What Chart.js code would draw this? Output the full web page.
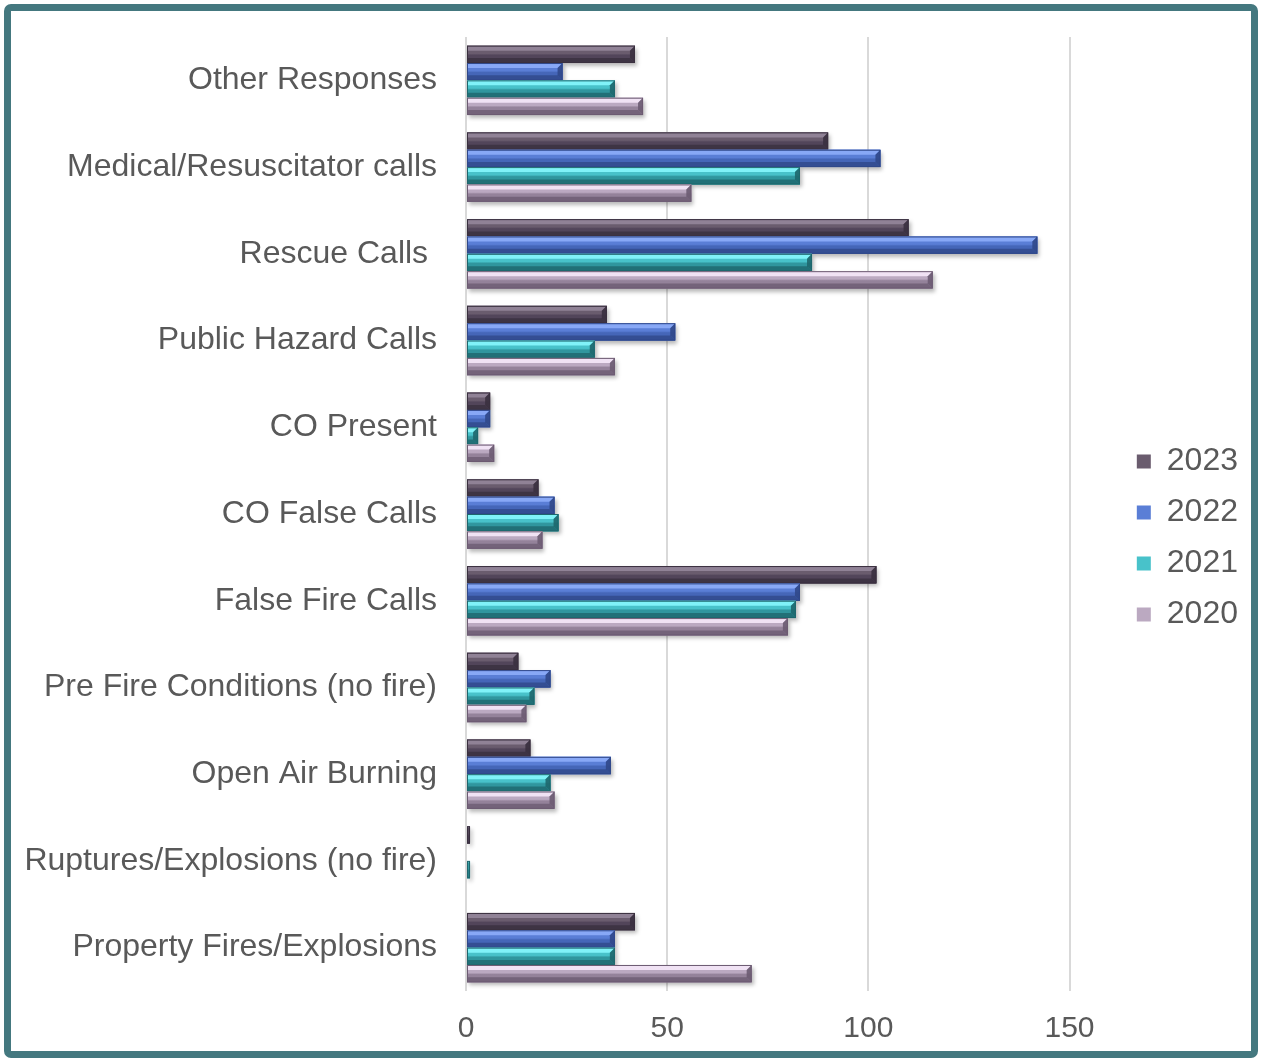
<!DOCTYPE html>
<html>
<head>
<meta charset="utf-8">
<script src="https://cdn.jsdelivr.net/npm/chart.js@4.4.0/dist/chart.umd.min.js"></script>
<style>
  html, body { margin: 0; padding: 0; background: #ffffff; }
  #wrap { position: absolute; left: 0; top: 0; width: 1261px; height: 1061px; overflow: hidden; }
  #c { position: absolute; left: 0; top: 0; }
  #frame { position: absolute; left: 4px; top: 4px; width: 1254px; height: 1054px; border: 7px solid #44787f; border-radius: 7px; box-sizing: border-box; pointer-events: none; }
</style>
</head>
<body>
<div id="wrap">
  <canvas id="c" width="1261" height="1061"></canvas>
  <div id="frame"></div>
</div>
<script>
const categories = [
  "Other Responses",
  "Medical/Resuscitator calls",
  "Rescue Calls ",
  "Public Hazard Calls",
  "CO Present",
  "CO False Calls",
  "False Fire Calls",
  "Pre Fire Conditions (no fire)",
  "Open Air Burning",
  "Ruptures/Explosions (no fire)",
  "Property Fires/Explosions"
];
const seriesNames = ["2023", "2022", "2021", "2020"];
const values2023 = [42, 90, 110, 35, 6, 18, 102, 13, 16, 1, 42];
const values2022 = [24, 103, 142, 52, 6, 22, 83, 21, 36, 0, 37];
const values2021 = [37, 83, 86, 32, 3, 23, 82, 17, 21, 1, 37];
const values2020 = [44, 56, 116, 37, 7, 19, 80, 15, 22, 0, 71];
const xTickValues = [0, 50, 100, 150];

const lightColors = ["#908296", "#88a8f6", "#80f2f8", "#f0e2f4"];
const midColors   = ["#6a5c6e", "#5a7ed6", "#48c2ca", "#bba9c1"];
const baseColors  = ["#52455a", "#4566b8", "#30969e", "#94829a"];
const darkColors  = ["#3a303f", "#30488a", "#1e676d", "#6c5b72"];

const bevelPlugin = {
  id: 'bevel',
  beforeDatasetsDraw(chart) {
    const ctx = chart.ctx;
    ctx.save();
    ctx.shadowColor = 'rgba(0,0,0,0.28)';
    ctx.shadowBlur = 4;
    ctx.shadowOffsetX = 2;
    ctx.shadowOffsetY = 3;
  },
  afterDatasetsDraw(chart) {
    const ctx = chart.ctx;
    ctx.restore();
    chart.data.datasets.forEach((ds, di) => {
      const meta = chart.getDatasetMeta(di);
      if (meta.hidden) return;
      meta.data.forEach((el) => {
        const p = el.getProps(['x', 'y', 'base', 'height'], true);
        const left = Math.min(p.base, p.x), right = Math.max(p.base, p.x);
        const w = right - left;
        if (w < 0.5) return;
        const top = p.y - p.height / 2, bot = p.y + p.height / 2, h = p.height;
        const b = Math.min(5, w / 2, h / 3);
        const g = ctx.createLinearGradient(0, top, 0, bot);
        g.addColorStop(0, midColors[di]);
        g.addColorStop(0.45, midColors[di]);
        g.addColorStop(0.55, baseColors[di]);
        g.addColorStop(1, baseColors[di]);
        ctx.fillStyle = g;
        ctx.fillRect(left, top, w, h);
        // top bevel
        ctx.fillStyle = lightColors[di];
        ctx.beginPath();
        ctx.moveTo(left, top); ctx.lineTo(right, top);
        ctx.lineTo(right - b, top + b); ctx.lineTo(left, top + b);
        ctx.closePath(); ctx.fill();
        // bottom bevel
        ctx.fillStyle = darkColors[di];
        ctx.globalAlpha = 0.8;
        ctx.beginPath();
        ctx.moveTo(left, bot); ctx.lineTo(right, bot);
        ctx.lineTo(right - b, bot - b); ctx.lineTo(left, bot - b);
        ctx.closePath(); ctx.fill();
        // right bevel
        ctx.globalAlpha = 0.9;
        ctx.beginPath();
        ctx.moveTo(right, top); ctx.lineTo(right, bot);
        ctx.lineTo(right - b, bot - b); ctx.lineTo(right - b, top + b);
        ctx.closePath(); ctx.fill();
        ctx.globalAlpha = 1;
        ctx.strokeStyle = darkColors[di];
        ctx.lineWidth = 1;
        ctx.strokeRect(left + 0.5, top + 0.5, Math.max(w - 1, 0), h - 1);
      });
    });
  }
};

const allValues = [values2023, values2022, values2021, values2020];
const datasets = seriesNames.map((name, i) => ({
  label: name,
  data: allValues[i],
  backgroundColor: midColors[i],
  borderColor: darkColors[i],
  borderWidth: 0,
  categoryPercentage: 0.8,
  barPercentage: 1.0
}));

const FONT = '"Liberation Sans", Arial, sans-serif';

new Chart(document.getElementById('c'), {
  type: 'bar',
  data: { labels: categories, datasets },
  plugins: [bevelPlugin],
  options: {
    indexAxis: 'y',
    responsive: false,
    animation: false,
    layout: { padding: { left: 0, right: 13, top: 37, bottom: 22 } },
    scales: {
      x: {
        min: 0,
        max: 162,
        ticks: {
          stepSize: 50,
          padding: 20,
          color: '#595959',
          font: { family: FONT, size: 30 }
        },
        afterBuildTicks(scale) {
          scale.ticks = xTickValues.map(v => ({ value: v }));
        },
        afterFit(scale) {
          scale.paddingLeft = 0; scale.paddingRight = 0;
          scale.height = 48;
        },
        grid: { color: '#d9d9d9', lineWidth: 2, drawTicks: false },
        border: { display: false }
      },
      y: {
        ticks: {
          padding: 29,
          color: '#595959',
          font: { family: FONT, size: 32 }
        },
        afterFit(scale) {
          scale.width = 466;
          scale.paddingTop = 0; scale.paddingBottom = 0;
        },
        grid: { display: false, drawTicks: false },
        border: { display: false }
      }
    },
    plugins: {
      legend: {
        position: 'right',
        labels: {
          boxWidth: 14,
          boxHeight: 14,
          padding: 19,
          color: '#595959',
          font: { family: FONT, size: 32 }
        }
      },
      tooltip: { enabled: false }
    }
  }
});
</script>
</body>
</html>
